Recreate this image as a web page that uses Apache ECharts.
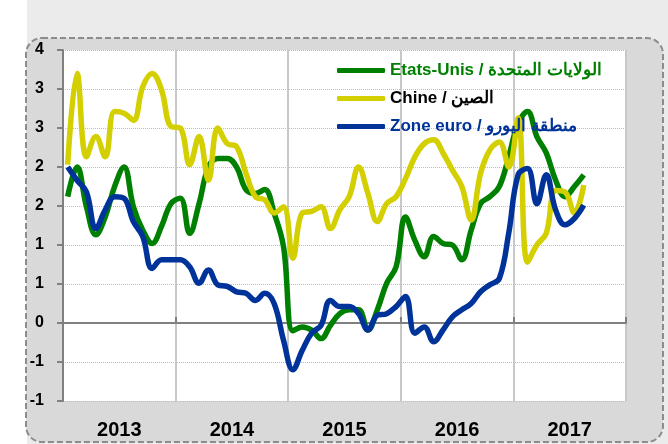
<!DOCTYPE html>
<html>
<head>
<meta charset="utf-8">
<title>Inflation</title>
<script src="https://cdn.jsdelivr.net/npm/echarts@6/dist/echarts.min.js"></script>
<style>
  html, body { margin: 0; padding: 0; background: #ebebeb; }
  #chart { width: 668px; height: 444px; }
</style>
</head>
<body>
<div id="chart"></div>
<script>
// years shown on the x axis, monthly data Jan 2013 - Aug 2017
var years = ['2013', '2014', '2015', '2016', '2017'];

// y tick labels as printed on the original (rounded), from -1 to 3.5 step 0.5
var yTickLabels = ['-1', '-1', '0', '1', '1', '2', '2', '3', '3', '4'];

var nameUS = 'Etats-Unis / الولايات المتحدة';
var nameCN = 'Chine / الصين';
var nameEU = 'Zone euro / منطقة اليورو';

var us = [
  1.62, 2.0, 1.49, 1.13, 1.36, 1.75, 2.0, 1.49, 1.19, 1.02, 1.24, 1.53,
  1.6, 1.15, 1.53, 2.0, 2.11, 2.11, 2.0, 1.71, 1.66, 1.71, 1.41, 0.98,
  -0.1, -0.05, -0.09, -0.2, -0.03, 0.12, 0.17, 0.17, -0.09, 0.17, 0.51, 0.72,
  1.36, 1.06, 0.85, 1.11, 1.02, 1.0, 0.81, 1.19, 1.53, 1.62, 1.75, 2.13,
  2.56, 2.71, 2.39, 2.18, 1.83, 1.62, 1.75, 1.9
];
var china = [
  2.03, 3.2, 2.13, 2.39, 2.13, 2.71, 2.69, 2.6, 3.03, 3.2, 2.99, 2.52,
  2.5, 2.03, 2.39, 1.83, 2.5, 2.3, 2.26, 1.92, 1.62, 1.58, 1.41, 1.49,
  0.83, 1.41, 1.43, 1.49, 1.21, 1.45, 1.62, 2.0, 1.66, 1.3, 1.53, 1.62,
  1.85, 2.13, 2.3, 2.35, 2.18, 1.96, 1.75, 1.32, 1.92, 2.22, 2.32, 2.0,
  2.63, 0.78, 1.0, 1.15, 1.7, 1.68, 1.41, 1.77
];
var euro = [
  2.0, 1.83, 1.68, 1.21, 1.45, 1.62, 1.6, 1.3, 1.11, 0.7, 0.81, 0.81,
  0.81, 0.72, 0.51, 0.68, 0.49, 0.47, 0.4, 0.38, 0.29, 0.38, 0.25, -0.22,
  -0.6, -0.35, -0.13, -0.03, 0.29, 0.21, 0.21, 0.12, -0.09, 0.1, 0.12, 0.21,
  0.34, -0.13, -0.05, -0.24, -0.09, 0.08, 0.17, 0.25, 0.4, 0.49, 0.57, 1.15,
  1.9, 1.98, 1.53, 1.9, 1.45, 1.26, 1.34, 1.51
];

var months = [];
for (var y = 0; y < years.length; ++y)
  for (var m = 1; m <= 12; ++m)
    months.push(years[y] + '-' + (m < 10 ? '0' + m : m));

var font = "'Liberation Sans', Arial, sans-serif";
var green = '#008000', yellow = '#d4cf00', blue = '#003399';

var chart = echarts.init(document.getElementById('chart'));

var option = {
  animation: false,
  backgroundColor: '#ebebeb',
  textStyle: { fontFamily: font },
  graphic: [
    { type: 'rect', z: -10, shape: { x: 0, y: 0, width: 27, height: 444 },
      style: { fill: '#ffffff' } },
    { type: 'rect', z: -9, shape: { x: 26, y: 38, width: 637, height: 404, r: 16 },
      style: { fill: '#d9d9d9', stroke: '#8c8c8c', lineWidth: 2, lineDash: [6, 3] } }
  ],
  grid: {
    left: 63, right: 42, top: 50, bottom: 43,
    show: true, backgroundColor: '#ffffff', borderWidth: 0
  },
  legend: {
    orient: 'vertical',
    left: 337, top: 62,
    padding: 0,
    itemWidth: 48, itemHeight: 5, itemGap: 11,
    icon: 'roundRect',
    selectedMode: false,
    textStyle: { fontFamily: font, fontSize: 17, fontWeight: 'bold' },
    data: [
      { name: nameUS, textStyle: { color: green } },
      { name: nameCN, textStyle: { color: '#000000' } },
      { name: nameEU, textStyle: { color: blue } }
    ]
  },
  xAxis: [{
    type: 'category',
    data: years,
    position: 'bottom',
    boundaryGap: true,
    axisLine: { show: false, onZero: false },
    axisTick: { show: false },
    axisLabel: { color: '#000', fontFamily: font, fontSize: 20, fontWeight: 'bold', margin: 19 },
    splitLine: { show: true, lineStyle: { color: '#c8c8c8', width: 2 } }
  }, {
    type: 'category',
    data: months,
    position: 'bottom',
    boundaryGap: true,
    axisLine: { show: true, onZero: true, lineStyle: { color: '#808080', width: 2 } },
    axisTick: { show: true, inside: true, interval: 11, length: 6, lineStyle: { color: '#808080', width: 2 } },
    axisLabel: { show: false },
    splitLine: { show: false }
  }],
  yAxis: {
    type: 'value',
    min: -1, max: 3.5, interval: 0.5,
    axisLine: { show: true, lineStyle: { color: '#808080', width: 2 } },
    axisTick: { show: true, length: 6, lineStyle: { color: '#808080', width: 2 } },
    axisLabel: {
      color: '#000', fontFamily: font, fontSize: 16, fontWeight: 'bold', margin: 19,
      formatter: function (v) { return yTickLabels[Math.round((v + 1) / 0.5)]; }
    },
    splitLine: { show: true, lineStyle: { color: '#bdbdbd', type: 'dotted', width: 1 } }
  },
  series: [
    { name: nameUS, type: 'line', xAxisIndex: 1, data: us, smooth: 0.4, showSymbol: false, symbol: 'none',
      itemStyle: { color: green }, lineStyle: { color: green, width: 5.5 } },
    { name: nameCN, type: 'line', xAxisIndex: 1, data: china, smooth: 0.4, showSymbol: false, symbol: 'none',
      itemStyle: { color: yellow }, lineStyle: { color: yellow, width: 5.5 } },
    { name: nameEU, type: 'line', xAxisIndex: 1, data: euro, smooth: 0.4, showSymbol: false, symbol: 'none',
      itemStyle: { color: blue }, lineStyle: { color: blue, width: 5.5 } }
  ]
};

chart.setOption(option);
</script>
</body>
</html>
